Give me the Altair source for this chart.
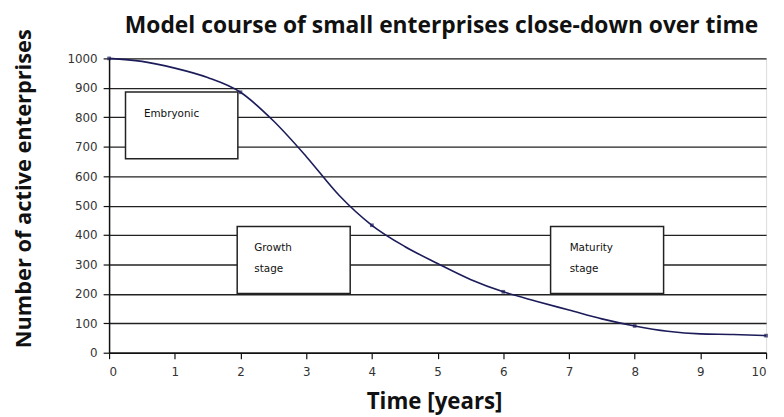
import altair as alt
import pandas as pd

# Curve
years = [0, 0.5, 1, 1.5, 2, 2.5, 3, 3.5, 4, 4.5, 5, 5.5, 6, 6.5, 7, 7.5, 8, 8.5, 9, 9.5, 10]
active = [1000, 990, 967, 935, 885, 788, 667, 535, 433, 361, 303, 249, 207, 175, 145, 115, 91, 73, 64, 62, 58]

marker_years = [0, 2, 4, 6, 8, 10]
marker_values = [1000, 885, 433, 207, 91, 58]

# Stage boxes
box_names = ["Embryonic", "Growth", "Maturity"]
box_x0 = [0.25, 1.95, 6.72]
box_x1 = [1.96, 3.67, 8.44]
box_y0 = [659, 201, 201]
box_y1 = [886, 429, 429]

# Box labels
label_text = ["Embryonic", "Growth", "stage", "Maturity", "stage"]
label_x = [0.53, 2.21, 2.21, 7.01, 7.01]
label_y = [812, 356, 285, 356, 285]

curve = pd.DataFrame({"year": years, "active": active})
markers = pd.DataFrame({"year": marker_years, "active": marker_values})
boxes = pd.DataFrame({"name": box_names, "x0": box_x0, "x1": box_x1, "y0": box_y0, "y1": box_y1})
labels = pd.DataFrame({"text": label_text, "x": label_x, "y": label_y})

xscale = alt.Scale(domain=[0, 10], nice=False, zero=False)
yscale = alt.Scale(domain=[0, 1000], nice=False)

xaxis = alt.Axis(
    values=list(range(0, 11)), grid=False, title="Time [years]",
    titleFont="Open Sans", titleFontSize=22.5, titleFontWeight="bold", titleColor="#111",
    titleX=328, titleY=49, titleBaseline="middle", titleAnchor="start", titleAlign="center",
    labelFont="DejaVu Sans", labelFontSize=12, labelColor="#333", labelPadding=8,
    labelOverlap=False,
    tickSize=6, tickColor="#111", domainColor="#111", domainWidth=1.5, tickWidth=1.2,
    format="d",
)
yaxis = alt.Axis(
    values=list(range(0, 1001, 100)), grid=True, gridColor="#222", gridWidth=1.3,
    title="Number of active enterprises",
    titleFont="Open Sans", titleFontSize=22, titleFontWeight="bold", titleColor="#111",
    titleX=-86, titleY=131, titleAngle=-90, titleAlign="center", titleBaseline="middle",
    labelFont="DejaVu Sans", labelFontSize=12, labelColor="#333", labelPadding=6,
    labelOverlap=False, format="d",
    tickSize=6, tickColor="#111", domainColor="#111", domainWidth=1.5, tickWidth=1.2,
)

X = lambda f: alt.X(f, scale=xscale, axis=xaxis)
Y = lambda f: alt.Y(f, scale=yscale, axis=yaxis)

line = alt.Chart(curve).mark_line(color="#1c1c5a", strokeWidth=1.6, interpolate="monotone").encode(
    x=X("year:Q"), y=Y("active:Q")
)
pts = alt.Chart(markers).mark_point(shape="square", filled=True, color="#1c1c5a", size=14).encode(
    x=X("year:Q"), y=Y("active:Q")
)
rects = alt.Chart(boxes).mark_rect(fill="white", stroke="#222", strokeWidth=1.5).encode(
    x=X("x0:Q"), x2="x1:Q",
    y=Y("y0:Q"), y2="y1:Q",
)
texts = alt.Chart(labels).mark_text(
    align="left", baseline="middle", font="DejaVu Sans", fontSize=10.5, color="#111"
).encode(
    x=X("x:Q"), y=Y("y:Q"), text="text:N"
)

chart = alt.layer(line, rects, texts, pts).properties(
    width=663, height=297,
    autosize=alt.AutoSizeParams(type="none"),
    padding={"left": 102, "top": 49, "right": 10, "bottom": 62},
    title=alt.TitleParams(
        "Model course of small enterprises close-down over time",
        font="Open Sans", fontSize=23, fontWeight="bold", color="#111",
        anchor="middle", baseline="alphabetic", offset=26, dx=4, dy=53, frame="group",
    ),
).configure_view(stroke=None).configure(background="white")

chart.save("out.html", embed_options={"renderer": "svg", "actions": False})
